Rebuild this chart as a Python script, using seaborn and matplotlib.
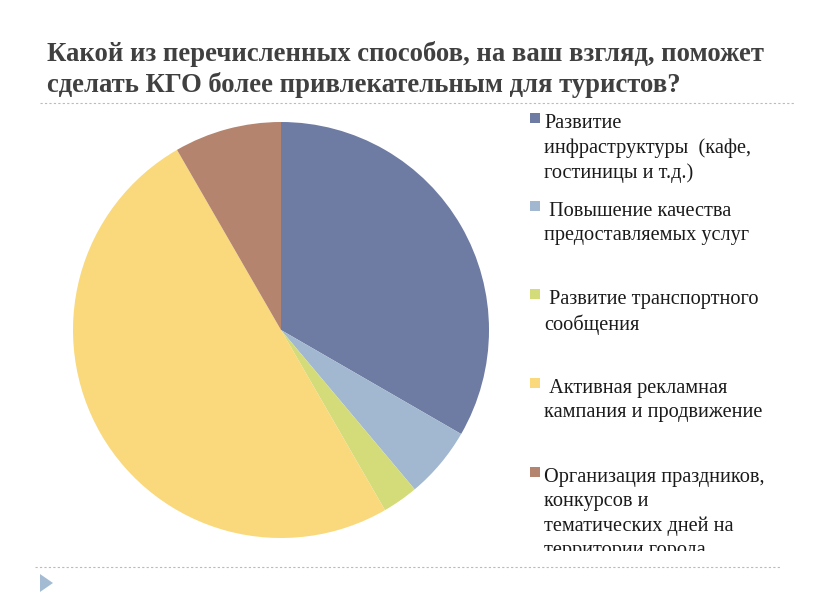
import matplotlib
matplotlib.use("Agg")
import matplotlib.pyplot as plt
import seaborn as sns
from matplotlib.patches import Polygon

sns.set_theme(style="white")

title_lines = ["Какой из перечисленных способов, на ваш взгляд, поможет",
               "сделать КГО более привлекательным для туристов?"]
categories = ["Развитие\nинфраструктуры  (кафе,\nгостиницы и т.д.)",
              " Повышение качества\nпредоставляемых услуг",
              " Развитие транспортного\nсообщения",
              " Активная рекламная\nкампания и продвижение",
              "Организация праздников,\nконкурсов и\nтематических дней на\nтерритории города"]
values = [12, 2, 1, 18, 3]
colors = ["#6E7BA2", "#A2B8D0", "#D4DC7A", "#F9D97C", "#B4846F"]
palette = sns.color_palette(colors)

W, H = 816, 613
fig = plt.figure(figsize=(W / 100, H / 100), dpi=100)
renderer = fig.canvas.get_renderer()

def fx(px):
    return px / W

def fy(py):
    return 1 - py / H

# Pie
cx, cy, r = 281, 330, 208
ax = fig.add_axes([fx(cx - r), fy(cy + r), 2 * r / W, 2 * r / H])
ax.pie(values, colors=palette, startangle=90, counterclock=False,
       wedgeprops=dict(linewidth=0), radius=1)
ax.set_xlim(-1, 1)
ax.set_ylim(-1, 1)
ax.set_axis_off()

# Title (fit first line to the reference width)
tfs = 18
ttexts = []
for i, line in enumerate(title_lines):
    t = fig.text(fx(47), fy(54 + 31 * i), line, ha="left", va="center",
                 fontsize=tfs, fontweight="bold", color="#404040",
                 family="Liberation Serif")
    ttexts.append(t)
w0 = ttexts[0].get_window_extent(renderer).width
new_fs = tfs * 715.0 / w0
for t in ttexts:
    t.set_fontsize(new_fs)

# Dotted separator lines
fig.add_artist(plt.Line2D([fx(40), fx(795)], [fy(103), fy(103)],
                          color="#BBBBBB", lw=0.8, ls=(0, (2, 2))))
fig.add_artist(plt.Line2D([fx(35), fx(780)], [fy(567), fy(567)],
                          color="#BBBBBB", lw=0.8, ls=(0, (2, 2))))
tri = Polygon([[fx(40), fy(574)], [fx(40), fy(592)], [fx(53), fy(583)]],
              closed=True, transform=fig.transFigure, color="#A4BCD3", lw=0)
fig.add_artist(tri)

# Legend (clipped at bottom like the reference)
lx0, ly0, lx1, ly1 = 520, 105, 816, 551
lax = fig.add_axes([fx(lx0), fy(ly1), (lx1 - lx0) / W, (ly1 - ly0) / H])
lax.set_xlim(lx0, lx1)
lax.set_ylim(ly1, ly0)
lax.set_axis_off()
entry_y = [121, 209, 297, 386, 475]
for lab, col, y in zip(categories, palette, entry_y):
    lax.scatter([535], [y - 3], marker="s", s=46, color=col, linewidths=0, clip_on=True)
    lax.text(544, y - 7, lab, ha="left", va="top", fontsize=14.6,
             family="Liberation Serif", color="#1a1a1a", linespacing=1.36,
             clip_on=True)

fig.savefig("out.png", dpi=100)
